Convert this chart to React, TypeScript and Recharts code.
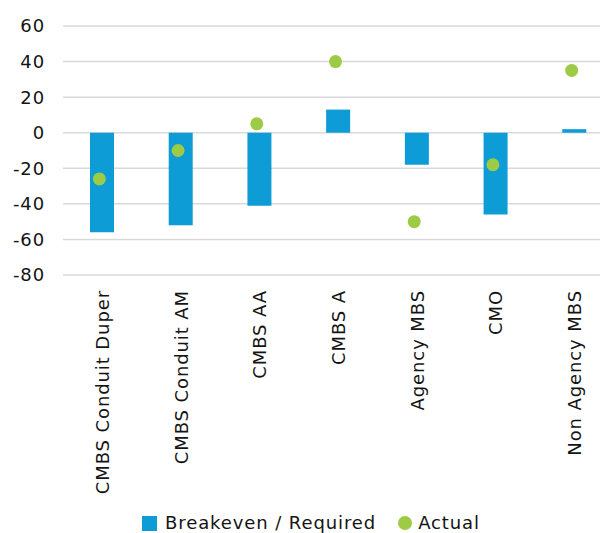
import React from "react";
import { ComposedChart, Bar, Scatter, XAxis, YAxis, CartesianGrid, Legend } from "recharts";

const categories = [
  "CMBS Conduit Duper",
  "CMBS Conduit AM",
  "CMBS AA",
  "CMBS A",
  "Agency MBS",
  "CMO",
  "Non Agency MBS",
];
const breakeven = [-56, -52, -41, 13, -18, -46, 2];
const actual = [-26, -10, 5, 40, -50, -18, 35];
const yTicks = [-80, -60, -40, -20, 0, 20, 40, 60];

const data = categories.map((name, i) => ({ name, breakeven: breakeven[i], actual: actual[i] }));

const BAR = "#0E9CD6";
const DOT = "#9ECB45";
const FONT = "'DejaVu Sans', sans-serif";
const TXT = "#141414";
const FS = 18;
const LS = 0.9;

const XTick = (props: any) => {
  const { x, y, payload } = props;
  return (
    <g transform={`translate(${x},${y + 7})`}>
      <text
        transform="rotate(-90)"
        textAnchor="end"
        dy="0.36em"
        fontFamily={FONT}
        fontSize={FS}
        letterSpacing={LS}
        fill={TXT}
      >
        {payload.value}
      </text>
    </g>
  );
};

const YTick = (props: any) => {
  const { x, y, payload } = props;
  return (
    <text
      x={x}
      y={y}
      dy="0.36em"
      textAnchor="end"
      fontFamily={FONT}
      fontSize={FS}
      letterSpacing={LS}
      fill={TXT}
    >
      {payload.value}
    </text>
  );
};

const Dot = (props: any) => {
  const { cx, cy } = props;
  if (cx == null || cy == null) return null;
  return <circle cx={cx - 3} cy={cy} r={6.5} fill={DOT} />;
};

const renderLegend = () => (
  <div
    style={{
      display: "flex",
      justifyContent: "center",
      alignItems: "center",
      height: 20,
      lineHeight: "20px",
      fontFamily: FONT,
      fontSize: FS,
      letterSpacing: LS,
      color: TXT,
      paddingLeft: 8,
    }}
  >
    <span style={{ display: "inline-block", width: 15, height: 15, background: BAR }} />
    <span style={{ marginLeft: 8 }}>Breakeven / Required</span>
    <span
      style={{ display: "inline-block", width: 14, height: 14, borderRadius: 7, background: DOT, marginLeft: 22 }}
    />
    <span style={{ marginLeft: 6 }}>Actual</span>
  </div>
);

export default function App() {
  return (
    <div style={{ position: "absolute", left: 0, top: 0, width: 600, height: 533, overflow: "hidden", background: "#fff" }}>
      <ComposedChart width={614} height={533} data={data} margin={{ top: 26, right: 0, bottom: 0, left: 0 }}>
        <CartesianGrid vertical={false} stroke="#d9d9d9" strokeWidth={1.5} />
        <XAxis
          dataKey="name"
          interval={0}
          axisLine={false}
          tickLine={false}
          height={238}
          tick={<XTick />}
        />
        <YAxis
          domain={[-80, 60]}
          ticks={yTicks}
          axisLine={false}
          tickLine={false}
          width={63}
          tickMargin={12}
          tick={<YTick />}
        />
        <Legend verticalAlign="bottom" content={renderLegend} />
        <Bar dataKey="breakeven" fill={BAR} barSize={24} isAnimationActive={false} />
        <Scatter dataKey="actual" shape={<Dot />} isAnimationActive={false} />
      </ComposedChart>
    </div>
  );
}
